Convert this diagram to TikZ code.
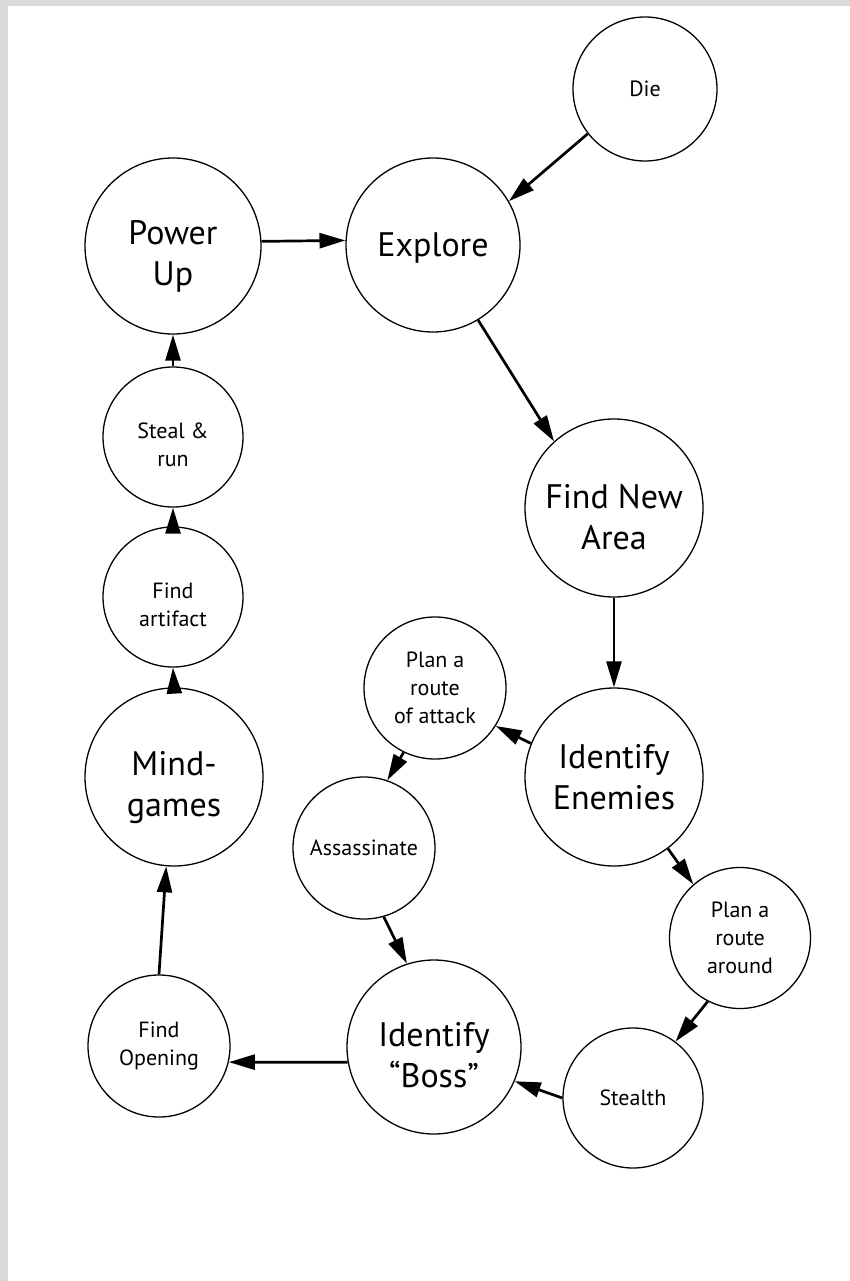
\documentclass[tikz,border=0pt]{standalone}
\usepackage{fontspec}
\setmainfont{PT Sans}
\usetikzlibrary{arrows.meta}

\begin{document}
\begin{tikzpicture}[x=1pt, y=-1pt,
    big/.style={draw, circle, line width=1.3pt, inner sep=0pt, align=center,
      font=\fontsize{34}{41}\selectfont},
    small/.style={draw, circle, line width=1.3pt, inner sep=0pt, align=center,
      font=\fontsize{22}{28}\selectfont},
    low/.style={text height=#1},   % pushes the lines a bit down in the circle
    arrow/.style={line width=2.7pt, -{Triangle[length=26pt,width=15pt]}}]
  % page with the grey frame on top and left
  \fill[black!15] (0,0) rectangle (850,1281);
  \fill[white] (8,6) rectangle (850,1281);
  % the big circles
  \node[big, low=85pt, minimum size=176pt] (powerup) at (173,246) {Power\\Up};
  \node[big, low=29pt, minimum size=174pt] (explore) at (433,245) {Explore};
  \node[big, low=83pt, minimum size=178pt] (newarea) at (614,508) {Find New\\Area};
  \node[big, low=86pt, minimum size=178pt] (mindgames) at (174,777) {Mind-\\games};
  \node[big, minimum size=178pt] (enemies) at (614,777) {Identify\\Enemies};
  \node[big, low=81pt, minimum size=174pt] (boss) at (434,1047) {Identify\\“Boss”};
  % the small circles
  \node[small, minimum size=144pt] (die) at (645,89) {Die};
  \node[small, low=59pt, minimum size=140pt] (steal) at (173,437) {Steal \&\\run};
  \node[small, low=60pt, minimum size=140pt] (artifact) at (173,597) {Find\\artifact};
  \node[small, minimum size=142pt] (attack) at (435,688) {Plan a\\route\\of attack};
  \node[small, minimum size=142pt] (assassinate) at (364,848) {Assassinate};
  \node[small, minimum size=141pt] (around) at (740,938) {Plan a\\route\\around};
  \node[small, minimum size=142pt] (opening) at (159,1046) {Find\\Opening};
  \node[small, minimum size=140pt] (stealth) at (633,1098) {Stealth};
  % the arrows, from node to node
  \foreach \from/\to in {die.218/explore.30, powerup.3/explore.177,
      explore.-59/newarea.132, newarea.south/enemies.north,
      enemies.158/attack.-32, enemies.-53/around.131,
      attack.-116/assassinate.71, assassinate.-74/boss.108,
      around.-117/stealth.53, stealth.west/boss.-23, boss.190/opening.-13,
      opening.north/mindgames.-95, mindgames.north/artifact.south,
      artifact.north/steal.south, steal.north/powerup.south} {
    \draw[arrow] (\from) -- (\to);
  }
\end{tikzpicture}
\end{document}
